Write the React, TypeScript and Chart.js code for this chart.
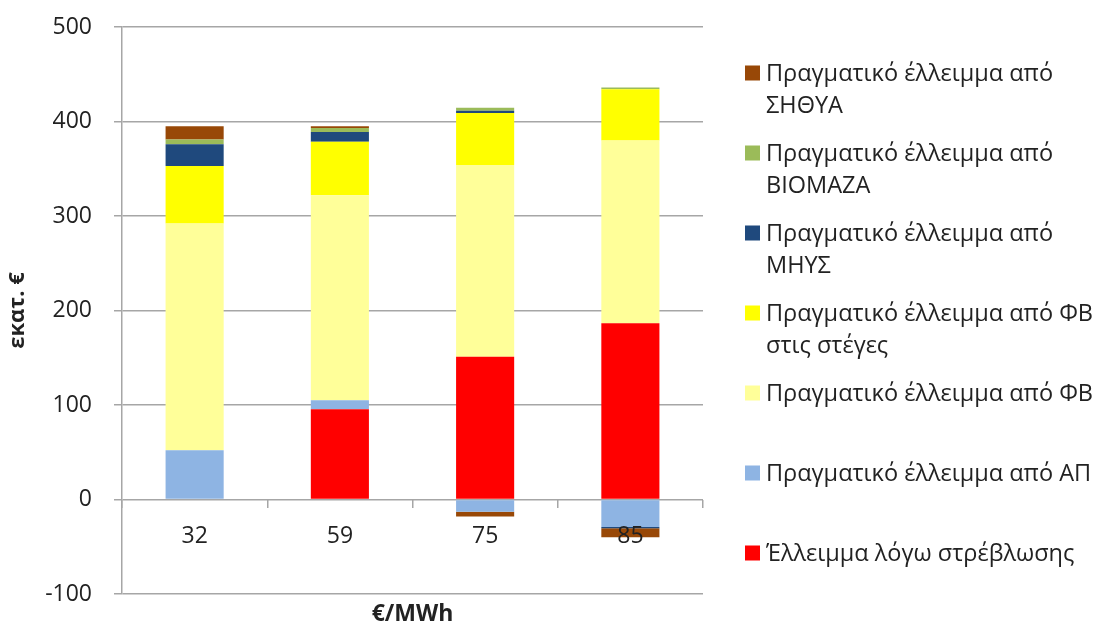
import React, { useEffect, useRef } from "react";
import { Chart, registerables } from "chart.js";

Chart.register(...registerables);

const categories = ["32", "59", "75", "85"];
const distortion = [0, 95.5, 151, 186.5];
const apValues = [52, 9.5, -13, -29];
const pvValues = [240, 217, 203, 193.5];
const roofPvValues = [61, 56.5, 55, 54];
const mhysValues = [23, 10.5, 2.5, -1.5];
const biomassValues = [5, 4, 3, 2];
const chpValues = [14, 2, -5, -9.5];
const yTicks = [-100, 0, 100, 200, 300, 400, 500];

const seriesLabels = [
  "Έλλειμμα λόγω στρέβλωσης",
  "Πραγματικό έλλειμμα από ΑΠ",
  "Πραγματικό έλλειμμα από ΦΒ",
  "Πραγματικό έλλειμμα από ΦΒ στις στέγες",
  "Πραγματικό έλλειμμα από ΜΗΥΣ",
  "Πραγματικό έλλειμμα από ΒΙΟΜΑΖΑ",
  "Πραγματικό έλλειμμα από ΣΗΘΥΑ",
];
const legendLines = [
  ["Πραγματικό έλλειμμα από", "ΣΗΘΥΑ"],
  ["Πραγματικό έλλειμμα από", "ΒΙΟΜΑΖΑ"],
  ["Πραγματικό έλλειμμα από", "ΜΗΥΣ"],
  ["Πραγματικό έλλειμμα από ΦΒ", "στις στέγες"],
  ["Πραγματικό έλλειμμα από ΦΒ"],
  ["Πραγματικό έλλειμμα από ΑΠ"],
  ["Έλλειμμα λόγω στρέβλωσης"],
];
const colors = ["#FF0000", "#8EB4E3", "#FFFF99", "#FFFF00", "#1F497D", "#9BBB59", "#984807"];

const FONT = "'Open Sans', 'Noto Sans', sans-serif";
const TEXT = "#222222";
const GRID = "#A6A6A6";

const legendPlugin = {
  id: "customLegend",
  afterDraw(chart: any) {
    const ctx = chart.ctx;
    const ds = chart.data.datasets;
    ctx.save();
    ctx.font = `23.5px ${FONT}`;
    ctx.textBaseline = "alphabetic";
    ctx.textAlign = "left";
    for (let i = 0; i < legendLines.length; i++) {
      const dsIndex = ds.length - 1 - i;
      const base = 81 + 80 * i;
      ctx.fillStyle = ds[dsIndex].backgroundColor;
      ctx.fillRect(745, base - 15.5, 15, 15);
      ctx.fillStyle = TEXT;
      legendLines[i].forEach((line, j) => {
        ctx.fillText(line, 766, base + 32 * j);
      });
    }
    const ca = chart.chartArea;
    ctx.font = `bold 23px ${FONT}`;
    ctx.textAlign = "center";
    ctx.fillText("€/MWh", (ca.left + ca.right) / 2, 621);
    ctx.restore();
  },
};

export default function App() {
  const canvasRef = useRef<HTMLCanvasElement | null>(null);

  useEffect(() => {
    document.body.style.margin = "0";
    const seriesData = [distortion, apValues, pvValues, roofPvValues, mhysValues, biomassValues, chpValues];
    const chart = new Chart(canvasRef.current as HTMLCanvasElement, {
      type: "bar",
      data: {
        labels: categories,
        datasets: seriesData.map((d, i) => ({
          label: seriesLabels[i],
          data: d,
          backgroundColor: colors[i],
          borderWidth: 0,
          barPercentage: 0.4,
          categoryPercentage: 1.0,
        })),
      },
      options: {
        animation: false,
        responsive: true,
        maintainAspectRatio: false,
        layout: { padding: { left: 0, right: 395, top: 27, bottom: 31 } },
        plugins: {
          legend: { display: false },
          tooltip: { enabled: false },
        },
        scales: {
          x: {
            stacked: true,
            position: { y: 0 } as any,
            afterFit(scale: any) {
              scale.paddingTop = 0;
              scale.paddingBottom = 0;
              scale.paddingLeft = 0;
              scale.paddingRight = 0;
            },
            border: { display: false },
            grid: {
              drawOnChartArea: false,
              drawTicks: true,
              tickLength: 8,
              tickColor: GRID,
              lineWidth: 1.5,
              offset: true,
            },
            ticks: {
              z: 1,
              color: TEXT,
              font: { family: FONT, size: 23 },
              padding: 15,
            },
          },
          y: {
            stacked: true,
            min: -100,
            max: 500,
            afterBuildTicks(scale: any) {
              scale.ticks = yTicks.map((v) => ({ value: v }));
            },
            afterFit(scale: any) {
              scale.width = 122;
              scale.paddingTop = 0;
              scale.paddingBottom = 0;
            },
            border: { display: true, color: GRID, width: 1.5 },
            grid: {
              color: GRID,
              lineWidth: 1.5,
              tickLength: 8,
              tickColor: GRID,
            },
            ticks: {
              color: TEXT,
              font: { family: FONT, size: 23 },
              padding: 22,
            },
            title: {
              display: true,
              text: "εκατ. €",
              color: TEXT,
              font: { family: FONT, size: 22, weight: "bold" },
              padding: { top: 5, bottom: 0 },
            },
          },
        },
      },
      plugins: [legendPlugin],
    });
    return () => chart.destroy();
  }, []);

  return (
    <div style={{ position: "absolute", left: 0, top: 0, width: 1098, height: 625, background: "#fff" }}>
      <canvas ref={canvasRef} />
    </div>
  );
}
